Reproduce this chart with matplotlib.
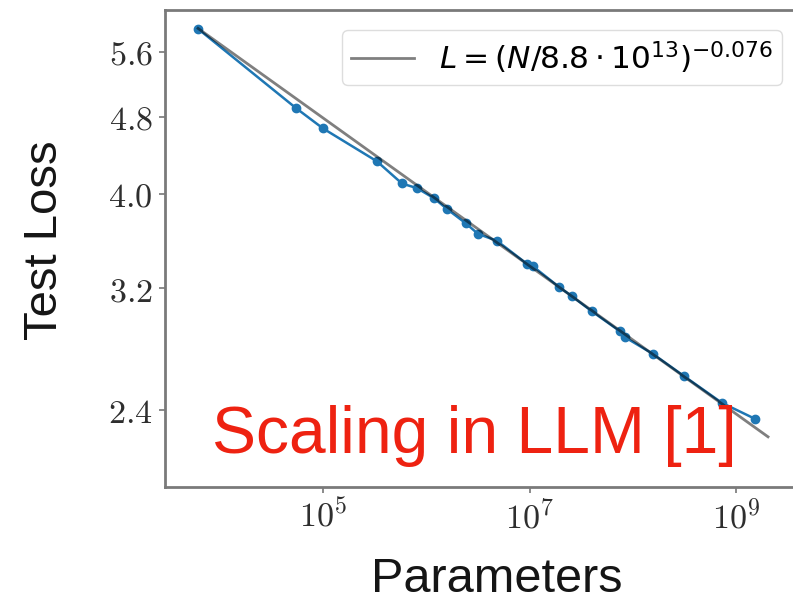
import numpy as np
import matplotlib
matplotlib.use("Agg")
import matplotlib.pyplot as plt
from matplotlib.font_manager import FontProperties
from matplotlib.ticker import FixedLocator, FixedFormatter, NullLocator

# Model size (parameters) and measured test loss
params = [6.1e3, 5.42e4, 9.9e4, 3.30e5, 5.75e5, 8.05e5, 1.175e6, 1.57e6,
          2.40e6, 3.13e6, 4.79e6, 9.35e6, 1.07e7, 1.91e7, 2.55e7, 3.98e7,
          7.45e7, 8.32e7, 1.55e8, 3.10e8, 7.24e8, 1.51e9]
test_loss = [5.91, 4.90, 4.67, 4.32, 4.10, 4.055, 3.96, 3.86,
             3.73, 3.64, 3.58, 3.39, 3.37, 3.21, 3.14, 3.03,
             2.89, 2.85, 2.74, 2.60, 2.44, 2.35]

# Power-law fit L = (N / Nc)^(-alpha)
n_c = 8.8e13
alpha = 0.076
fit_range = [6.1e3, 2.02e9]

y_ticks = [2.4, 3.2, 4.0, 4.8, 5.6]
y_tick_labels = ["2.4", "3.2", "4.0", "4.8", "5.6"]
x_ticks = [1e5, 1e7, 1e9]
x_tick_labels = ["5", "7", "9"]

plt.rcParams["mathtext.fontset"] = "cm"

fig = plt.figure(figsize=(7.93, 6.05), dpi=100)
# the axes runs slightly past the right edge of the figure
ax = fig.add_axes([165 / 793, 118 / 605, (803 - 165) / 793, (487 - 10) / 605])

ax.plot(params, test_loss, "-o", color="#1f77b4", lw=1.8, ms=6)

n_fit = np.logspace(np.log10(fit_range[0]), np.log10(fit_range[1]), 200)
ax.plot(n_fit, (n_fit / n_c) ** (-alpha), color="k", alpha=0.5, lw=2.0,
        label=r"$L=(N/8.8\cdot 10^{13})^{-0.076}$")

ax.set_xscale("log")
ax.set_yscale("log")
ax.set_xlim(10 ** 3.465, 10 ** (9 + (803 - 736.5) / 103.25))
ax.set_ylim(2.0, 6.18)

ax.yaxis.set_major_locator(FixedLocator(y_ticks))
ax.yaxis.set_major_formatter(FixedFormatter(["$%s$" % t for t in y_tick_labels]))
ax.yaxis.set_minor_locator(NullLocator())
ax.xaxis.set_major_locator(FixedLocator(x_ticks))
ax.xaxis.set_major_formatter(FixedFormatter(["$10^{%s}$" % t for t in x_tick_labels]))
ax.xaxis.set_minor_locator(NullLocator())

ax.tick_params(axis="both", labelsize=24.5, color="#777777", length=4, width=1.2,
               labelcolor="#2e2e2e", pad=5)
for sp in ax.spines.values():
    sp.set_color("#7a7a7a")
    sp.set_linewidth(2.0)

sans = ["Liberation Sans", "DejaVu Sans"]
fig.text(45 / 793, 1 - 240 / 605, "Test Loss", rotation=90, ha="center", va="center",
         fontsize=34, family=sans, color="#151515")
fig.text(497 / 793, 1 - 580 / 605, "Parameters", ha="center", va="center",
         fontsize=35, family=sans, color="#151515")

leg_font = FontProperties(family="DejaVu Sans", size=22.5, math_fontfamily="dejavusans")
ax.legend(loc="upper right", bbox_to_anchor=(782 / 793, 1 - 30 / 605),
          bbox_transform=fig.transFigure, borderaxespad=0, prop=leg_font,
          handlelength=2.0, handletextpad=0.8, frameon=True, edgecolor="#dddddd",
          framealpha=1, borderpad=0.3)

fig.text(212 / 793, 1 - 453 / 605, "Scaling in LLM [1]",
         fontsize=47.5, family=sans, color="#ee2211", ha="left", va="baseline")

fig.savefig("out.png", dpi=100, facecolor="white")
